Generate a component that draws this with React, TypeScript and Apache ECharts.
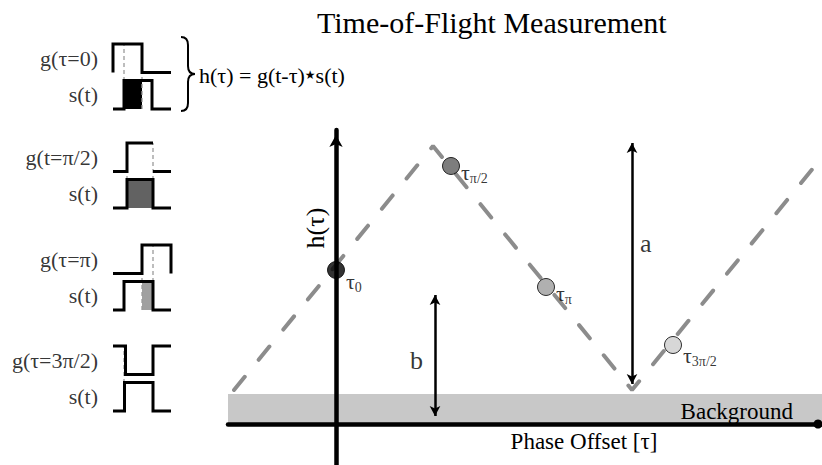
import { useEffect, useRef } from "react";
import * as echarts from "echarts";

const SERIF = '"Liberation Serif", "Times New Roman", serif';

// ---- main plot: correlation h(τ) against phase offset τ ----
const X_MIN = -108;
const X_MAX = 486;
const Y_MIN = -41;
const Y_MAX = 294;

// triangular correlation curve (vertices)
const correlation: [number, number][] = [
  [-102, 34],
  [97, 278],
  [296, 34],
  [496, 279],
];

// constant background offset
const backgroundLevel = 30;

// the four phase samples
const sampleX = [0, 115, 210, 337];
const sampleY = [154, 258, 137, 79];
const sampleSub = ["0", "π/2", "π", "3π/2"];
const sampleFill = ["#000000", "#5c5c5c", "#9c9c9c", "#cdcdcd"];

// amplitude (a) and offset (b) arrows
const arrowA: [number, number][] = [
  [296, 281],
  [296, 40],
];
const arrowB: [number, number][] = [
  [99, 129],
  [99, 8],
];

// ---- left panel: reference gate g and received signal s ----
const T_MAX = 58;
const ROW_GAP = 0.28;
const G_OFFSET = 1 + ROW_GAP;
const PANEL_TOP = G_OFFSET + 1;

const gLabels = ["g(τ=0)", "g(t=π/2)", "g(τ=π)", "g(τ=3π/2)"];
const gWaves: (number | string)[][][] = [
  [[0, 0], [0, 1], [29, 1], [29, 0], [58, 0]],
  [[0, 0], [14, 0], [14, 1], [40, 1], [40, "-"], [40, 0], [58, 0]],
  [[0, 0], [29, 0], [29, 1], [58, 1], [58, 0]],
  [[0, 1], [12.5, 1], [12.5, 0], [40, 0], [40, 1], [58, 1]],
];
const sWaves: number[][][] = [
  [[0, 0], [11, 0], [11, 1], [39, 1], [39, 0], [58, 0]],
  [[0, 0], [14, 0], [14, 1], [40, 1], [40, 0], [58, 0]],
  [[0, 0], [11, 0], [11, 1], [40, 1], [40, 0], [58, 0]],
  [[0, 0], [11.5, 0], [11.5, 1], [40, 1], [40, 0], [58, 0]],
];
const overlaps: ([number, number] | null)[] = [[11, 29], [14, 40], [29, 40], null];
const overlapFill = ["#000000", "#626262", "#a0a0a0", "#ffffff"];
const guides: number[][] = [[11, 29], [14, 40], [29, 40], [11]];
const groupTops = [44, 143, 245, 346];

const BRACE_PATH =
  "M0 0 Q7 0 7 8 L7 29 Q7 37 14 37 Q7 37 7 45 L7 66 Q7 74 0 74";
echarts.graphic.registerShape(
  "brace",
  echarts.graphic.extendPath(BRACE_PATH, {}) as any
);

function buildOption(): any {
  const grids: any[] = [
    { left: 228, right: 0, top: 130, bottom: 0, outerBoundsMode: "none", containLabel: false },
  ];
  const xAxes: any[] = [
    {
      type: "value",
      gridIndex: 0,
      min: X_MIN,
      max: X_MAX,
      z: 3,
      axisLine: {
        show: true,
        onZero: true,
        symbol: ["none", "circle"],
        symbolSize: [9, 9],
        symbolOffset: [0, -4],
        lineStyle: { color: "#000", width: 4.5 },
      },
      axisTick: { show: false },
      axisLabel: { show: false },
      splitLine: { show: false },
    },
  ];
  const yAxes: any[] = [
    {
      type: "value",
      gridIndex: 0,
      min: Y_MIN,
      max: Y_MAX,
      z: 3,
      axisLine: {
        show: true,
        onZero: true,
        symbol: ["none", "arrow"],
        symbolSize: [10, 12],
        symbolOffset: [0, -5],
        lineStyle: { color: "#000", width: 4.5 },
      },
      axisTick: { show: false },
      axisLabel: { show: false },
      splitLine: { show: false },
    },
  ];

  const series: any[] = [
    {
      type: "line",
      name: "correlation",
      xAxisIndex: 0,
      yAxisIndex: 0,
      data: correlation,
      symbol: "none",
      z: 2,
      lineStyle: { color: "#8c8c8c", width: 4, type: [17, 22], cap: "round" },
      markArea: {
        silent: true,
        itemStyle: { color: "#c8c8c8" },
        label: {
          show: true,
          position: "insideRight",
          offset: [-24, 2],
          fontFamily: SERIF,
          fontSize: 23,
          color: "#000",
        },
        data: [
          [
            { name: "Background", coord: [X_MIN, 0] },
            { coord: [X_MAX, backgroundLevel] },
          ],
        ],
      },
    },
    {
      type: "line",
      name: "arrows",
      xAxisIndex: 0,
      yAxisIndex: 0,
      data: [],
      z: 4,
      markLine: {
        silent: true,
        symbol: ["arrow", "arrow"],
        symbolSize: [8, 10],
        lineStyle: { color: "#000", width: 2.5, type: "solid" },
        label: { show: false },
        data: [
          [{ coord: arrowA[0] }, { coord: arrowA[1] }],
          [{ coord: arrowB[0] }, { coord: arrowB[1] }],
        ],
      },
    },
    {
      type: "scatter",
      name: "arrow labels",
      xAxisIndex: 0,
      yAxisIndex: 0,
      symbolSize: 0,
      z: 4,
      label: {
        show: true,
        formatter: "{b}",
        fontFamily: SERIF,
        fontSize: 26,
        color: "#000",
        distance: 0,
      },
      data: [
        { name: "a", value: [arrowA[0][0] + 8, 181], label: { position: "right" } },
        { name: "b", value: [arrowB[0][0] - 12, 64], label: { position: "left" } },
      ],
    },
    {
      type: "scatter",
      name: "samples",
      xAxisIndex: 0,
      yAxisIndex: 0,
      symbolSize: 17,
      z: 5,
      itemStyle: { borderColor: "#000", borderWidth: 1 },
      label: {
        show: true,
        position: "right",
        distance: 1,
        color: "#000",
        rich: {
          t: { fontFamily: SERIF, fontSize: 22, color: "#000" },
          s: {
            fontFamily: SERIF,
            fontSize: 14,
            color: "#000",
            padding: [12, 0, 0, 0],
          },
        },
      },
      data: sampleX.map((x, i) => ({
        value: [x, sampleY[i]],
        itemStyle: { color: sampleFill[i] },
        label: {
          formatter: `{t|τ}{s|${sampleSub[i]}}`,
          offset: [0, i === 0 ? 11 : i === 3 ? 10 : 6],
        },
      })),
    },
  ];

  // left-hand pulse diagrams
  groupTops.forEach((top, i) => {
    const gi = i + 1;
    grids.push({ left: 113, top, width: 58, height: 65, outerBoundsMode: "none" });
    xAxes.push({ type: "value", gridIndex: gi, min: 0, max: T_MAX, show: false });
    yAxes.push({ type: "value", gridIndex: gi, min: 0, max: PANEL_TOP, show: false });

    guides[i].forEach((gx) => {
      series.push({
        type: "line",
        xAxisIndex: gi,
        yAxisIndex: gi,
        data: [
          [gx, 0],
          [gx, PANEL_TOP],
        ],
        symbol: "none",
        clip: false,
        z: 2,
        lineStyle: { color: "#9a9a9a", width: 1.3, type: [4, 3] },
      });
    });

    const ov = overlaps[i];
    series.push({
      type: "line",
      xAxisIndex: gi,
      yAxisIndex: gi,
      data: sWaves[i],
      symbol: "none",
      clip: false,
      z: 3,
      lineStyle: { color: "#000", width: 3, join: "miter" },
      markArea: ov
        ? {
            silent: true,
            itemStyle: { color: overlapFill[i] },
            data: [[{ coord: [ov[0], 0] }, { coord: [ov[1], 1] }]],
          }
        : undefined,
    });

    series.push({
      type: "line",
      xAxisIndex: gi,
      yAxisIndex: gi,
      data: gWaves[i].map((p) => [p[0], p[1] === "-" ? "-" : (p[1] as number) + G_OFFSET]),
      symbol: "none",
      clip: false,
      connectNulls: false,
      z: 3,
      lineStyle: { color: "#000", width: 3, join: "miter" },
    });

    series.push({
      type: "scatter",
      xAxisIndex: gi,
      yAxisIndex: gi,
      symbolSize: 0,
      label: {
        show: true,
        position: "left",
        distance: 15,
        formatter: "{b}",
        fontFamily: SERIF,
        fontSize: 22,
        color: "#000",
      },
      data: [
        { name: gLabels[i], value: [0, G_OFFSET + 0.5] },
        { name: "s(t)", value: [0, 0.5] },
      ],
    });
  });

  return {
    animation: false,
    backgroundColor: "#ffffff",
    title: {
      text: "Time-of-Flight Measurement",
      left: 312,
      top: 2,
      textStyle: {
        fontFamily: SERIF,
        fontSize: 30,
        fontWeight: "normal",
        color: "#000",
      },
    },
    grid: grids,
    xAxis: xAxes,
    yAxis: yAxes,
    series,
    graphic: [
      {
        type: "brace",
        x: 181,
        y: 37,
        style: { stroke: "#000", lineWidth: 2, fill: "none" },
      },
      {
        type: "text",
        x: 199,
        y: 75,
        style: {
          text: "{n|h(τ) = g(t-τ)}{st|★}{n|s(t)}",
          verticalAlign: "middle",
          rich: {
            n: { fontFamily: SERIF, fontSize: 22, fill: "#000", color: "#000" },
            st: { fontFamily: "DejaVu Sans", fontSize: 12, fill: "#000", color: "#000" },
          },
        },
      },
      {
        type: "text",
        x: 315,
        y: 228,
        rotation: Math.PI / 2,
        style: {
          text: "h(τ)",
          fontFamily: SERIF,
          fontSize: 26,
          fill: "#000",
          align: "center",
          verticalAlign: "middle",
        },
      },
      {
        type: "text",
        x: 584,
        y: 441,
        style: {
          text: "Phase Offset [τ]",
          fontFamily: SERIF,
          fontSize: 23,
          fill: "#000",
          align: "center",
          verticalAlign: "middle",
        },
      },
    ],
  };
}

export default function App() {
  const ref = useRef<HTMLDivElement>(null);
  useEffect(() => {
    if (!ref.current) return;
    const chart = echarts.init(ref.current, undefined, { renderer: "svg" });
    chart.setOption(buildOption());
    return () => chart.dispose();
  }, []);
  return (
    <div
      ref={ref}
      style={{ position: "fixed", left: 0, top: 0, width: 822, height: 465 }}
    />
  );
}
